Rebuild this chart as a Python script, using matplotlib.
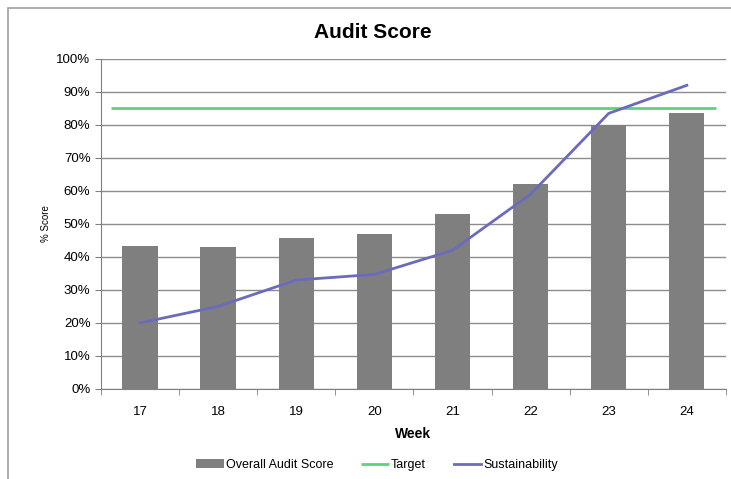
import matplotlib.pyplot as plt
from matplotlib.patches import Rectangle

plt.rcParams['font.family'] = ['Liberation Sans', 'DejaVu Sans']

weeks = ['17', '18', '19', '20', '21', '22', '23', '24']
overall = [43.2, 43.0, 45.6, 47.0, 53.0, 62.0, 80.0, 83.6]
target = 85
sustainability = [20.0, 25.0, 33.0, 34.7, 42.0, 59.0, 83.5, 92.0]

fig = plt.figure(figsize=(7.31, 4.79), dpi=100)
# рамка діаграми
fig.patches.append(Rectangle((8/731, -0.05), 1.0, 1 - 8/479 + 0.05, transform=fig.transFigure,
                             fill=False, edgecolor='#a0a0a0', linewidth=1.2))
ax = fig.add_axes([0.138, 0.188, 0.855, 0.689])

x = range(len(weeks))
bars = ax.bar(x, overall, width=0.45, color='#7f7f7f', label='Overall Audit Score', zorder=2)
tgt = ax.hlines(target, -0.37, len(weeks) - 1 + 0.37, color='#5ed47a', linewidth=2, label='Target', zorder=3)
sus, = ax.plot(x, sustainability, color='#6b6bbd', linewidth=2, label='Sustainability', zorder=4)

ax.set_xlim(-0.5, len(weeks) - 0.5)
ax.set_ylim(0, 100)
ax.set_yticks(range(0, 101, 10))
ax.set_yticklabels([f'{v}%' for v in range(0, 101, 10)], fontsize=9.5)
ax.set_xticks(list(x))
ax.set_xticklabels(weeks, fontsize=9.5)
ax.set_xticks([i - 0.5 for i in range(len(weeks) + 1)], minor=True)
ax.tick_params(axis='x', which='major', length=0, pad=12)
ax.tick_params(axis='x', which='minor', length=4, color='#808080')
ax.tick_params(axis='y', length=4, color='#808080')
ax.yaxis.grid(True, color='#8c8c8c', linewidth=1)
ax.set_axisbelow(True)
for s in ['top', 'right']:
    ax.spines[s].set_visible(False)
for s in ['left', 'bottom']:
    ax.spines[s].set_color('#808080')

ax.set_xlabel('Week', fontsize=10, fontweight='bold', labelpad=7)
ax.set_ylabel('% Score', fontsize=7, labelpad=4)
fig.text(0.51, 1 - 32/479, 'Audit Score', fontsize=15, fontweight='bold', ha='center', va='center')

fig.legend(handles=[bars, tgt, sus], loc='center', bbox_to_anchor=(0.516, 1 - 465/479), ncol=3,
           frameon=False, fontsize=9, handlelength=2.2, handleheight=0.7,
           columnspacing=2.2, handletextpad=0.2)

fig.savefig('out.png', dpi=100)
